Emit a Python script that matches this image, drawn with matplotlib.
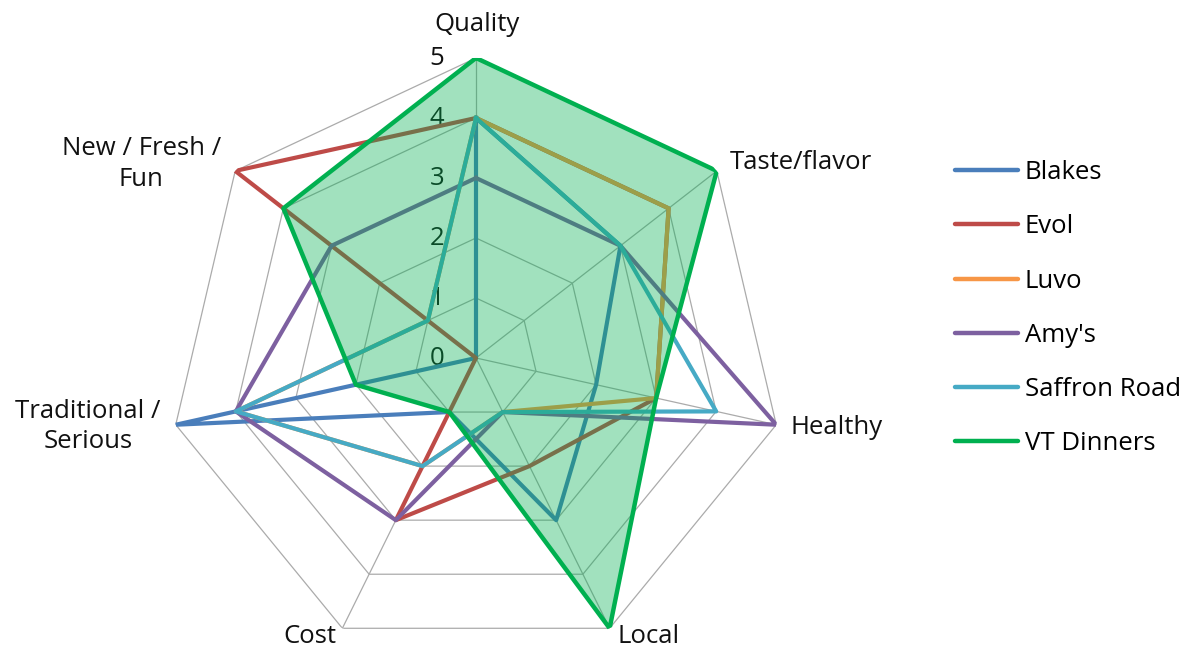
import numpy as np
import matplotlib
matplotlib.use("Agg")
import matplotlib.pyplot as plt
from matplotlib.lines import Line2D

# ---- data ----
categories = ["Quality", "Taste/flavor", "Healthy", "Local", "Cost",
              "Traditional /\nSerious", "New / Fresh /\nFun"]
blakes = [4, 3, 2, 3, 1, 5, 0]
evol = [4, 4, 3, 2, 3, 0, 5]
luvo = [4, 4, 3, 1, 2, 4, 1]
amys = [3, 3, 5, 1, 3, 4, 3]
saffron_road = [4, 3, 4, 1, 2, 4, 1]
vt_dinners = [5, 5, 3, 5, 1, 2, 4]
series_names = ["Blakes", "Evol", "Luvo", "Amy's", "Saffron Road", "VT Dinners"]
series_values = [blakes, evol, luvo, amys, saffron_road, vt_dinners]
radial_ticks = [0, 1, 2, 3, 4, 5]

colors = ["#4A7EBB", "#BE4B48", "#F79646", "#7D60A0", "#46AAC5", "#00B050"]

plt.rcParams["font.family"] = ["Open Sans", "DejaVu Sans"]
FS = 18.5

N = len(categories)
angles = np.arange(N) * 2 * np.pi / N
closed = np.append(angles, angles[0])

fig = plt.figure(figsize=(11.9, 6.5), dpi=100)
ax = fig.add_axes([0.1412, -0.0123, 0.5176, 0.9231], projection="polar")
ax.set_aspect("auto")
ax.set_theta_offset(np.pi / 2)
ax.set_theta_direction(-1)
ax.set_ylim(0, 5)
ax.grid(False)
ax.spines["polar"].set_visible(False)
ax.set_xticks([])
ax.set_yticks([])
ax.patch.set_visible(False)

grid_c = "#ABABAB"
for lvl in radial_ticks[1:]:
    ax.plot(closed, [lvl] * (N + 1), color=grid_c, lw=0.9, zorder=1)
for a in angles:
    ax.plot([a, a], [0, radial_ticks[-1]], color=grid_c, lw=0.9, zorder=1)

# radial tick labels (under the fill)
for t in radial_ticks:
    ax.annotate(str(t), xy=(0, t), xytext=(-39, -1), textcoords="offset pixels",
                ha="center", va="center", fontsize=FS, color="#111111",
                zorder=2, annotation_clip=False)

# series lines
for i, (name, vals) in enumerate(zip(series_names, series_values)):
    v = np.append(vals, vals[0])
    if name == "VT Dinners":
        ax.fill(closed, v, color=colors[i], alpha=0.37, lw=0, zorder=8)
        ax.plot(closed, v, color=colors[i], lw=3.2, zorder=9)
    else:
        ax.plot(closed, v, color=colors[i], lw=3.0, zorder=3 + i)

# category labels
label_specs = [
    ((1, 33), "center", "center", 1.0),
    ((13, 8), "left", "center", 1.0),
    ((14, -3), "left", "center", 1.0),
    ((8, -21), "left", "bottom", 1.0),
    ((-6, -21), "right", "bottom", 1.0),
    ((-88, -2), "center", "center", 1.28),
    ((-94, 7), "center", "center", 1.32),
]
for a, lab, (off, ha, va, ls) in zip(angles, categories, label_specs):
    ax.annotate(lab, xy=(a, 5), xytext=off, textcoords="offset pixels",
                ha=ha, va=va, fontsize=FS, color="#111111", zorder=10,
                multialignment="center", linespacing=ls,
                annotation_clip=False)

handles = [Line2D([0], [0], color=c, lw=3.2, solid_capstyle="round") for c in colors]
fig.legend(handles, series_names, loc="upper left",
           bbox_to_anchor=(955 / 1190, 1 - 160 / 650), frameon=False,
           fontsize=FS, handlelength=2.45, handletextpad=0.27,
           labelspacing=1.14, borderpad=0, borderaxespad=0)

fig.savefig("out.png", dpi=100)
